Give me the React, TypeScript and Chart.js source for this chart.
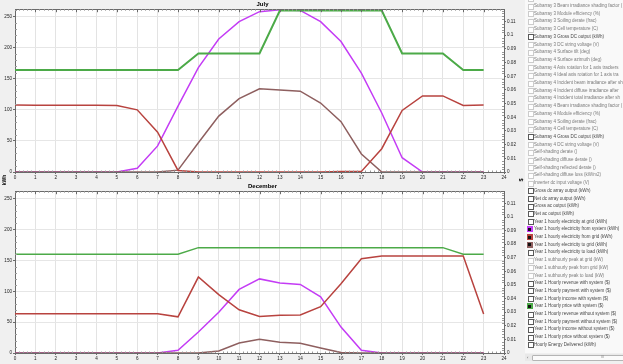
import React, { useEffect, useRef } from "react";
import { Chart, registerables } from "chart.js";
Chart.register(...registerables);

const HOURS = [0, 1, 2, 3, 4, 5, 6, 7, 8, 9, 10, 11, 12, 13, 14, 15, 16, 17, 18, 19, 20, 21, 22, 23];

// July (kWh, left axis)
const JULY_FROM_SYSTEM = [0, 0, 0, 0, 0, 0, 6, 42, 106, 168, 214, 242, 258, 261, 260, 242, 210, 159, 95, 23, 0, 0, 0, 0];
const JULY_FROM_GRID = [108, 107.5, 107.5, 107.5, 107.5, 107, 100, 64, 2.5, 0, 0, 0, 0, 0, 0, 0, 1, 1, 37.5, 99, 122.5, 122.5, 107, 108];
const JULY_TO_GRID = [0, 0, 0, 0, 0, 0, 0, 0, 3, 47, 90, 118, 134, 132, 130, 111, 81, 29, 0, 0, 0, 0, 0, 0];
// July ($, right axis)
const JULY_PRICE = [0.0746, 0.0746, 0.0746, 0.0746, 0.0746, 0.0746, 0.0746, 0.0746, 0.0746, 0.0866, 0.0866, 0.0866, 0.0866, 0.118, 0.118, 0.118, 0.118, 0.118, 0.118, 0.0866, 0.0866, 0.0866, 0.0746, 0.0746];

// December (kWh, left axis)
const DEC_FROM_SYSTEM = [0, 0, 0, 0, 0, 0, 0, 0, 4.4, 34, 66, 103, 120, 113.5, 111, 91, 42, 4.4, 0, 0, 0, 0, 0, 0];
const DEC_FROM_GRID = [63.5, 63.5, 63.5, 63.5, 63.5, 63.5, 63.5, 63.5, 58.6, 123, 94.5, 70, 59, 61, 61.5, 75, 112, 152.6, 157, 157, 157, 157, 157, 63];
const DEC_TO_GRID = [0, 0, 0, 0, 0, 0, 0, 0, 0, 0, 3.3, 16.3, 22.3, 17.4, 15.8, 8, 0.7, 0, 0, 0, 0, 0, 0, 0];
// December ($, right axis)
const DEC_PRICE = [0.0726, 0.0726, 0.0726, 0.0726, 0.0726, 0.0726, 0.0726, 0.0726, 0.0726, 0.0775, 0.0775, 0.0775, 0.0775, 0.0775, 0.0775, 0.0775, 0.0775, 0.0775, 0.0775, 0.0775, 0.0775, 0.0775, 0.0726, 0.0726];

const KWH_MAX = 262;
const KWH_STEP = 50;
const PRICE_MAX = 0.119;
const PRICE_STEP = 0.01;

const COLORS = {
  fromSystem: "#c43cf5",
  fromGrid: "#b8433f",
  toGrid: "#8e5f5f",
  price: "#4caa48",
};

// legend list: [label, state]  state: "d" disabled, "e" enabled, or a colour key when checked
const LEGEND_ITEMS: [string, string][] = [
  ["Subarray 3 Incident total irradiance after sh", "d"],
  ["Subarray 3 Beam irradiance shading factor (", "d"],
  ["Subarray 3 Module efficiency (%)", "d"],
  ["Subarray 3 Soiling derate (frac)", "d"],
  ["Subarray 3 Cell temperature (C)", "d"],
  ["Subarray 3 Gross DC output (kWh)", "e"],
  ["Subarray 3 DC string voltage (V)", "d"],
  ["Subarray 4 Surface tilt (deg)", "d"],
  ["Subarray 4 Surface azimuth (deg)", "d"],
  ["Subarray 4 Axis rotation for 1 axis trackers", "d"],
  ["Subarray 4 Ideal axis rotation for 1 axis tra", "d"],
  ["Subarray 4 Incident beam irradiance after sh", "d"],
  ["Subarray 4 Incident diffuse irradiance after", "d"],
  ["Subarray 4 Incident total irradiance after sh", "d"],
  ["Subarray 4 Beam irradiance shading factor (", "d"],
  ["Subarray 4 Module efficiency (%)", "d"],
  ["Subarray 4 Soiling derate (frac)", "d"],
  ["Subarray 4 Cell temperature (C)", "d"],
  ["Subarray 4 Gross DC output (kWh)", "e"],
  ["Subarray 4 DC string voltage (V)", "d"],
  ["Self-shading derate ()", "d"],
  ["Self-shading diffuse derate ()", "d"],
  ["Self-shading reflected derate ()", "d"],
  ["Self-shading diffuse loss (kW/m2)", "d"],
  ["Inverter dc input voltage (V)", "d"],
  ["Gross dc array output (kWh)", "e"],
  ["Net dc array output (kWh)", "e"],
  ["Gross ac output (kWh)", "e"],
  ["Net ac output (kWh)", "e"],
  ["Year 1 hourly electricity at grid (kWh)", "e"],
  ["Year 1 hourly electricity from system (kWh)", "fromSystem"],
  ["Year 1 hourly electricity from grid (kWh)", "fromGrid"],
  ["Year 1 hourly electricity to grid (kWh)", "toGrid"],
  ["Year 1 hourly electricity to load (kWh)", "e"],
  ["Year 1 subhourly peak at grid (kW)", "d"],
  ["Year 1 subhourly peak from grid (kW)", "d"],
  ["Year 1 subhourly peak to load (kW)", "d"],
  ["Year 1 Hourly revenue with system ($)", "e"],
  ["Year 1 Hourly payment with system ($)", "e"],
  ["Year 1 Hourly income with system ($)", "e"],
  ["Year 1 Hourly price with system ($)", "price"],
  ["Year 1 Hourly revenue without system ($)", "e"],
  ["Year 1 Hourly payment without system ($)", "e"],
  ["Year 1 Hourly income without system ($)", "e"],
  ["Year 1 Hourly price without system ($)", "e"],
  ["Hourly Energy Delivered (kWh)", "e"],
];

const FONT = "'Liberation Sans', Arial, sans-serif";
const CANVAS_W = 525;
const CANVAS_H = 182;

const framePlugin = {
  id: "frame",
  beforeDraw(chart: any) {
    const { ctx, chartArea: a } = chart;
    ctx.save();
    ctx.fillStyle = "#ffffff";
    ctx.fillRect(a.left, a.top, a.right - a.left, a.bottom - a.top);
    ctx.restore();
  },
  afterDraw(chart: any) {
    const { ctx, chartArea: a, scales } = chart;
    const xs = scales.x;
    const ys = scales.y;
    const y1 = scales.y1;
    ctx.save();
    ctx.strokeStyle = "#6a6a6a";
    ctx.lineWidth = 1;
    ctx.beginPath();
    const top = Math.round(a.top) + 0.5;
    ctx.moveTo(a.left, top);
    ctx.lineTo(a.right, top);
    ctx.stroke();
    ctx.beginPath();
    for (let h = 0; h <= 24; h++) {
      const px = Math.round(xs.getPixelForValue(h)) + 0.5;
      ctx.moveTo(px, a.top);
      ctx.lineTo(px, a.top + 3);
    }
    ctx.stroke();
    ctx.strokeStyle = "#9a9a9a";
    ctx.beginPath();
    for (let m = 0; m <= 120; m++) {
      if (m % 5 === 0) continue;
      const px = Math.round(xs.getPixelForValue(m / 5)) + 0.5;
      ctx.moveTo(px, a.top);
      ctx.lineTo(px, a.top + 1.5);
      ctx.moveTo(px, a.bottom);
      ctx.lineTo(px, a.bottom - 1.5);
    }
    for (let v = 10; v < KWH_MAX; v += 10) {
      if (v % 50 === 0) continue;
      const py = Math.round(ys.getPixelForValue(v)) + 0.5;
      ctx.moveTo(a.left, py);
      ctx.lineTo(a.left + 2, py);
    }
    for (let k = 1; k < 60; k++) {
      if (k % 5 === 0) continue;
      const py = Math.round(y1.getPixelForValue(k * 0.002)) + 0.5;
      ctx.moveTo(a.right, py);
      ctx.lineTo(a.right - 2, py);
    }
    ctx.stroke();
    ctx.restore();
  },
};

function points(vals: number[]) {
  return HOURS.map((h, i) => ({ x: h, y: vals[i] }));
}

function fmtPrice(v: number) {
  if (Math.abs(v) < 1e-9) return "0";
  return String(+v.toFixed(2));
}

function makeConfig(title: string, fromSystem: number[], fromGrid: number[], toGrid: number[], price: number[], xHeight: number, priceWidth: number): any {
  const tickFont = { family: FONT, size: 4.6 };
  const line = (label: string, data: number[], color: string, axis: string, order: number, width: number) => ({
    label,
    data: points(data),
    borderColor: color,
    backgroundColor: color,
    borderWidth: width,
    pointRadius: 0,
    tension: 0,
    fill: false,
    yAxisID: axis,
    order,
  });
  return {
    type: "line",
    data: {
      datasets: [
        line("Year 1 hourly electricity from system (kWh)", fromSystem, COLORS.fromSystem, "y", 3, 1.5),
        line("Year 1 hourly electricity to grid (kWh)", toGrid, COLORS.toGrid, "y", 2, 1.5),
        line("Year 1 hourly electricity from grid (kWh)", fromGrid, COLORS.fromGrid, "y", 1, 1.5),
        line("Year 1 Hourly price with system ($)", price, COLORS.price, "y1", 0, priceWidth),
      ],
    },
    options: {
      animation: false,
      responsive: false,
      maintainAspectRatio: false,
      devicePixelRatio: 1,
      layout: { padding: 0 },
      plugins: {
        legend: { display: false },
        tooltip: { enabled: false },
        title: {
          display: true,
          text: title,
          color: "#000",
          font: { family: FONT, size: 6, weight: "bold", lineHeight: 1.2 },
          padding: { top: 1, bottom: 1 },
        },
      },
      scales: {
        x: {
          type: "linear",
          min: 0,
          max: 24,
          ticks: { stepSize: 1, autoSkip: false, maxRotation: 0, font: tickFont, color: "#222", padding: 0.5 },
          grid: { color: "#e3e3e3", tickColor: "#6a6a6a", tickLength: 2 },
          border: { color: "#6a6a6a" },
          afterFit: (s: any) => {
            s.height = xHeight;
          },
        },
        y: {
          position: "left",
          min: 0,
          max: KWH_MAX,
          ticks: { stepSize: KWH_STEP, includeBounds: false, font: tickFont, color: "#222", padding: 1 },
          grid: { color: "#e6e6e6", tickColor: "#6a6a6a", tickLength: 2 },
          border: { color: "#6a6a6a" },
          afterFit: (s: any) => {
            s.width = 15;
          },
        },
        y1: {
          position: "right",
          min: 0,
          max: PRICE_MAX,
          ticks: {
            stepSize: PRICE_STEP,
            includeBounds: false,
            font: tickFont,
            color: "#222",
            padding: 1,
            callback: (v: any) => fmtPrice(Number(v)),
          },
          grid: { drawOnChartArea: false, tickColor: "#6a6a6a", tickLength: 2 },
          border: { color: "#6a6a6a" },
          afterFit: (s: any) => {
            s.width = 21;
          },
        },
      },
    },
    plugins: [framePlugin],
  };
}

function Panel(props: { title: string; top: number; fromSystem: number[]; fromGrid: number[]; toGrid: number[]; price: number[]; xHeight: number; priceWidth: number }) {
  const ref = useRef<HTMLCanvasElement>(null);
  useEffect(() => {
    const chart = new Chart(
      ref.current as HTMLCanvasElement,
      makeConfig(props.title, props.fromSystem, props.fromGrid, props.toGrid, props.price, props.xHeight, props.priceWidth)
    );
    return () => chart.destroy();
  }, []);
  return (
    <canvas
      ref={ref}
      width={CANVAS_W}
      height={CANVAS_H}
      style={{ position: "absolute", left: 0, top: props.top, width: CANVAS_W, height: CANVAS_H }}
    />
  );
}

function LegendRow(props: { label: string; state: string; index: number }) {
  const y = -1.7 + 7.7 * props.index;
  const { state } = props;
  let box: React.ReactNode;
  if (state === "d") {
    box = <div style={{ position: "absolute", left: 528, top: y - 2.5, width: 4, height: 4, border: "0.7px solid #cccccc", background: "#fff" }} />;
  } else if (state === "e") {
    box = <div style={{ position: "absolute", left: 527.5, top: y - 2.5, width: 4, height: 4, border: "0.8px solid #5a5a5a", background: "#fff" }} />;
  } else {
    const c = (COLORS as any)[state];
    box = (
      <div style={{ position: "absolute", left: 526.5, top: y - 3, width: 6, height: 6, background: c }}>
        <div style={{ position: "absolute", left: 1.5, top: 1.5, width: 3, height: 3, background: "#111" }} />
      </div>
    );
  }
  return (
    <>
      {box}
      <div
        style={{
          position: "absolute",
          left: 534,
          top: y - 3,
          height: 6,
          lineHeight: "6px",
          fontSize: 4.5,
          fontFamily: FONT,
          color: state === "d" ? "#7a7a7a" : "#474747",
          whiteSpace: "nowrap",
        }}
      >
        {props.label}
      </div>
    </>
  );
}

export default function App() {
  useEffect(() => {
    document.body.style.margin = "0";
  }, []);
  return (
    <div style={{ position: "fixed", left: 0, top: 0, width: 623, height: 364, background: "#f0f0f0", overflow: "hidden" }}>
      <Panel title="July" top={0} fromSystem={JULY_FROM_SYSTEM} fromGrid={JULY_FROM_GRID} toGrid={JULY_TO_GRID} price={JULY_PRICE} xHeight={10} priceWidth={2} />
      <Panel title="December" top={182} fromSystem={DEC_FROM_SYSTEM} fromGrid={DEC_FROM_GRID} toGrid={DEC_TO_GRID} price={DEC_PRICE} xHeight={11} priceWidth={1.5} />
      <div
        style={{
          position: "absolute",
          left: -6,
          top: 177,
          width: 20,
          height: 6,
          lineHeight: "6px",
          textAlign: "center",
          fontSize: 5,
          fontWeight: "bold",
          fontFamily: FONT,
          transform: "rotate(-90deg)",
          color: "#000",
        }}
      >
        kWh
      </div>
      <div
        style={{
          position: "absolute",
          left: 516,
          top: 177,
          width: 10,
          height: 6,
          lineHeight: "6px",
          textAlign: "center",
          fontSize: 5.5,
          fontWeight: "bold",
          fontFamily: FONT,
          transform: "rotate(-90deg)",
          color: "#000",
        }}
      >
        $
      </div>
      <div style={{ position: "absolute", left: 525, top: 0, width: 98, height: 353, background: "#f9f9f9" }} />
      {LEGEND_ITEMS.map(([label, state], i) => (
        <LegendRow key={i} label={label} state={state} index={i} />
      ))}
      <div style={{ position: "absolute", left: 525, top: 354, width: 98, height: 7, background: "#e9e9e9" }} />
      <div style={{ position: "absolute", left: 527, top: 355, width: 4, height: 5, fontSize: 4, lineHeight: "5px", fontFamily: FONT, color: "#555" }}>‹</div>
      <div style={{ position: "absolute", left: 532, top: 355, width: 95, height: 4, border: "0.7px solid #b5b5b5", background: "#fbfbfb", borderRadius: 1 }} />
      <div style={{ position: "absolute", left: 601, top: 355, width: 6, height: 5, fontSize: 3.5, lineHeight: "5px", fontFamily: FONT, color: "#888" }}>III</div>
    </div>
  );
}
